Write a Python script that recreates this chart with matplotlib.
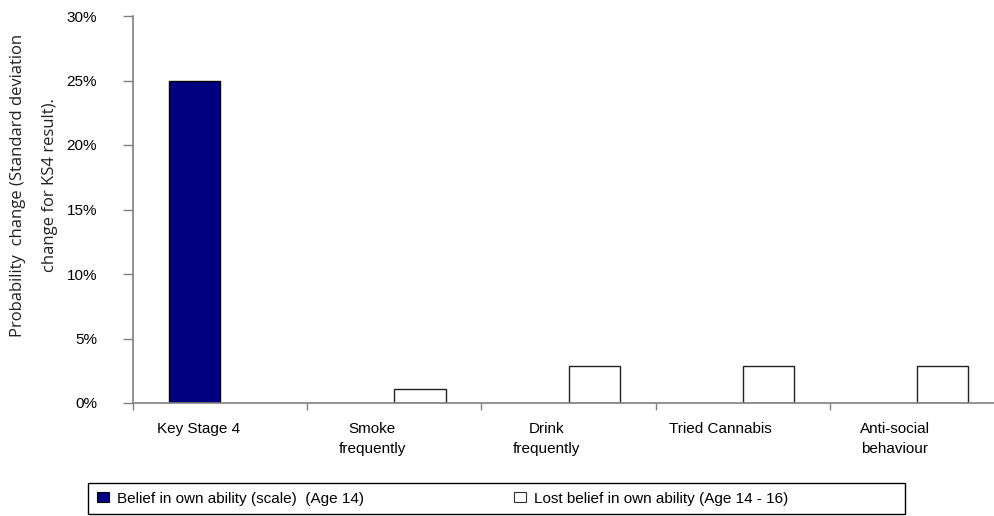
import matplotlib
matplotlib.use("Agg")
import matplotlib.pyplot as plt
from matplotlib.patches import Rectangle, Patch
import numpy as np

categories = ["Key Stage 4", "Smoke\nfrequently", "Drink\nfrequently", "Tried Cannabis", "Anti-social\nbehaviour"]
belief = [25.0, 0, 0, 0, 0]
lost_belief = [0, 1.1, 2.9, 2.9, 2.9]
yticks = [0, 5, 10, 15, 20, 25, 30]
series_names = ["Belief in own ability (scale)  (Age 14)", "Lost belief in own ability (Age 14 - 16)"]

W, H = 995, 516
fig = plt.figure(figsize=(W / 100, H / 100), dpi=100)
fig.patch.set_facecolor("white")

ax = fig.add_axes([133 / W, 1 - 403 / H, (1004 - 133) / W, (403 - 16) / H])
x = np.arange(len(categories))
bw = 0.295
b1 = np.array(belief, dtype=float)
b2 = np.array(lost_belief, dtype=float)
b1[b1 == 0] = np.nan
b2[b2 == 0] = np.nan
ax.bar(x - bw / 2, b1, width=bw, color="#000080", edgecolor="black", linewidth=1.0)
ax.bar(x + bw / 2, b2, width=bw, color="white", edgecolor="#222222", linewidth=1.0)

ax.set_xlim(-0.5, len(categories) - 0.5)
ax.set_ylim(0, 30)
ax.set_yticks(yticks)
ax.set_yticklabels([f"{v}%" for v in yticks], fontfamily="Liberation Sans", fontsize=11)
ax.tick_params(axis="y", direction="out", length=7, width=1, color="#808080", pad=19)

ax.set_xticks(x - 0.126)
ax.set_xticklabels(categories, fontfamily="Liberation Sans", fontsize=11, linespacing=1.55)
ax.tick_params(axis="x", which="major", length=0, pad=14)
ax.set_xticks(np.arange(-0.5, len(categories), 1.0), minor=True)
ax.tick_params(axis="x", which="minor", direction="out", length=5, width=1, color="#808080")

for s in ["top", "right"]:
    ax.spines[s].set_visible(False)
for s in ["left", "bottom"]:
    ax.spines[s].set_color("#808080")
    ax.spines[s].set_linewidth(1.2)

# y label (two lines)
fig.text(18 / W, 1 - 185 / H, "Probability  change (Standard deviation", rotation=90,
         ha="center", va="center", fontfamily="Open Sans", fontsize=12, color="#222222")
fig.text(50 / W, 1 - 185 / H, "change for KS4 result).", rotation=90,
         ha="center", va="center", fontfamily="Open Sans", fontsize=12, color="#222222")

# legend
fig.patches.append(Rectangle((88 / W, 1 - 514 / H), (905 - 88) / W, 31 / H,
                             transform=fig.transFigure, fill=False, edgecolor="black",
                             linewidth=1.0))
handles = [Patch(facecolor="#000080", edgecolor="black", linewidth=0.8),
           Patch(facecolor="white", edgecolor="#333333", linewidth=0.8)]
leg = fig.legend(handles, series_names, loc="center left",
                 bbox_to_anchor=(88 / W, 1 - 498.5 / H), ncol=2, frameon=False,
                 prop={"family": "Liberation Sans", "size": 11},
                 handlelength=0.8, handleheight=0.65, handletextpad=0.5,
                 columnspacing=9.8, borderpad=0.0, borderaxespad=0.6)

fig.savefig("out.png", dpi=100)
